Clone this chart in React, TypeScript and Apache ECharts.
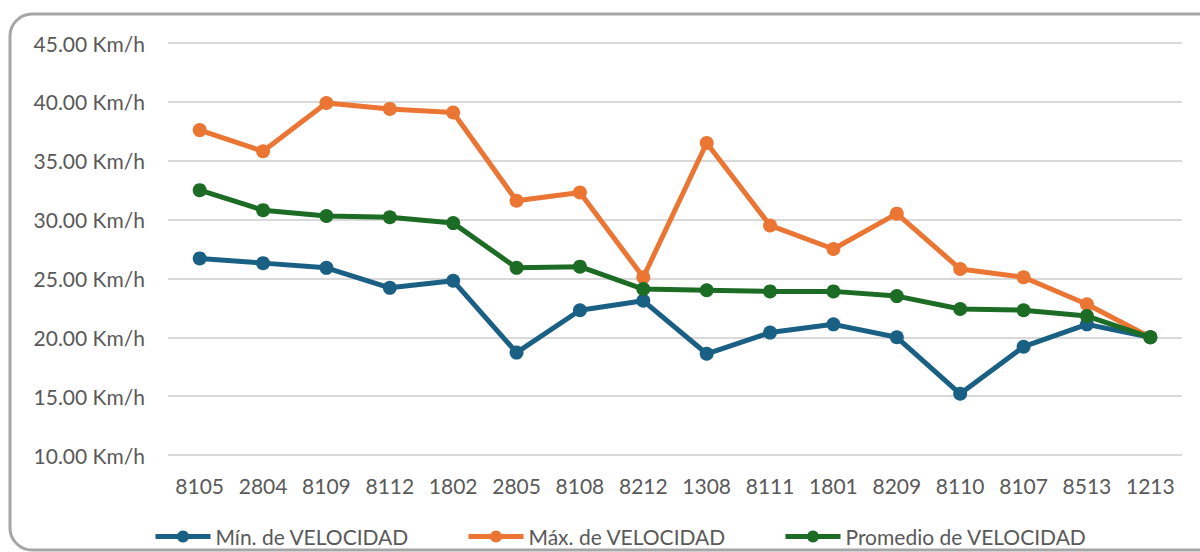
import React, { useEffect, useRef } from "react";
import * as echarts from "echarts";

const categories = ["8105", "2804", "8109", "8112", "1802", "2805", "8108", "8212", "1308", "8111", "1801", "8209", "8110", "8107", "8513", "1213"];
const minValues = [26.7, 26.3, 25.9, 24.2, 24.8, 18.7, 22.3, 23.1, 18.6, 20.4, 21.1, 20.0, 15.2, 19.2, 21.1, 20.0];
const maxValues = [37.6, 35.8, 39.9, 39.4, 39.1, 31.6, 32.3, 25.1, 36.5, 29.5, 27.5, 30.5, 25.8, 25.1, 22.8, 20.0];
const avgValues = [32.5, 30.8, 30.3, 30.2, 29.7, 25.9, 26.0, 24.1, 24.0, 23.9, 23.9, 23.5, 22.4, 22.3, 21.8, 20.0];
const seriesNames = ["Mín. de VELOCIDAD", "Máx. de VELOCIDAD", "Promedio de VELOCIDAD"];
const colors = ["#1A5F84", "#EB7533", "#1D6C25"];

const FONT = "Lato";
const TEXT = "#595959";

export default function App() {
  const ref = useRef<HTMLDivElement>(null);
  useEffect(() => {
    if (!ref.current) return;
    const chart = echarts.init(ref.current, undefined, { renderer: "svg" });
    const data = [minValues, maxValues, avgValues];
    const legendLefts = [153, 466, 783];
    chart.setOption({
      animation: false,
      backgroundColor: "#ffffff",
      graphic: [
        {
          type: "rect",
          shape: { x: 10, y: 14, width: 1220, height: 536, r: 22 },
          style: { fill: "none", stroke: "#A6A6A6", lineWidth: 3 },
          z: -1,
        },
      ],
      grid: { left: 168, right: 18, top: 43, bottom: 97, containLabel: false },
      xAxis: {
        type: "category",
        data: categories,
        boundaryGap: true,
        axisLine: { show: false },
        axisTick: { show: false },
        axisLabel: { color: TEXT, fontFamily: FONT, fontSize: 21, margin: 20 },
      },
      yAxis: {
        type: "value",
        min: 10,
        max: 45,
        interval: 5,
        axisLine: { show: false },
        axisTick: { show: false },
        splitLine: { lineStyle: { color: "#D9D9D9", width: 2 } },
        axisLabel: {
          color: TEXT,
          fontFamily: FONT,
          fontSize: 21,
          margin: 23,
          formatter: (v: number) => v.toFixed(2) + " Km/h",
        },
      },
      legend: seriesNames.map((n, i) => ({
        data: [n],
        left: legendLefts[i],
        top: 526,
        padding: 0,
        itemWidth: 55,
        itemHeight: 15,
        itemGap: 0,
        lineStyle: { width: 5 },
        textStyle: { color: TEXT, fontFamily: FONT, fontSize: 21 },
      })),
      series: seriesNames.map((n, i) => ({
        name: n,
        type: "line",
        data: data[i],
        color: colors[i],
        symbol: "circle",
        symbolSize: 14,
        lineStyle: { width: 5, color: colors[i] },
        itemStyle: { color: colors[i] },
        z: i === 2 ? 4 : i === 0 ? 3 : 2,
      })),
    });
    return () => chart.dispose();
  }, []);
  return (
    <div
      ref={ref}
      style={{ position: "fixed", left: 0, top: 0, width: 1200, height: 552 }}
    />
  );
}
